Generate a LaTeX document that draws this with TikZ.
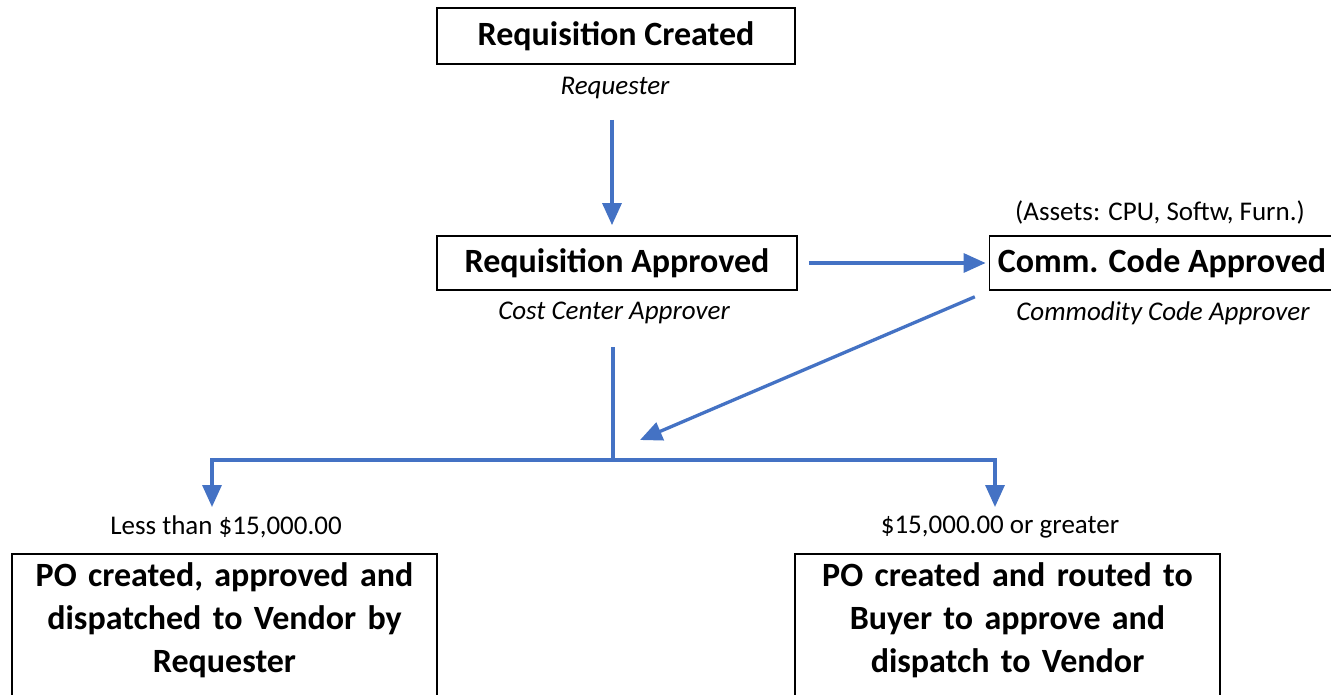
\documentclass[tikz,border=0pt]{standalone}
\usepackage{fontspec}
\setmainfont{Carlito}
\usetikzlibrary{arrows.meta}
\definecolor{lineblue}{RGB}{68,114,196}
\begin{document}
\begin{tikzpicture}[x=1pt,y=-1pt,
  box/.style={draw=black,line width=1.8pt,font=\bfseries\fontsize{34}{43}\selectfont,inner sep=0pt,align=center},
  bigbox/.style={box,anchor=north,text width=425pt,minimum width=425pt,inner ysep=9pt},
  role/.style={font=\itshape\fontsize{27}{32}\selectfont,inner sep=0pt},
  cond/.style={font=\fontsize{27}{32}\selectfont,inner sep=0pt},
  flow/.style={draw=lineblue,line width=3.3pt},
  arr/.style={flow,-{Triangle[length=22pt,width=19pt]}}]
\clip (0,0) rectangle (1331,695);
\fill[white] (0,0) rectangle (1331,695);

\node[box,minimum width=358pt,minimum height=56pt] (rc) at (616,36) {Requisition Created};
\node[role] (rcr) at (615,88) {Requester};
\node[box,minimum width=360pt,minimum height=54pt] (ra) at (617,263) {Requisition Approved};
\node[role] (rar) at (614,313) {Cost Center Approver};
\node[box,minimum width=345pt,minimum height=54pt] (cc) at (1162,263) {Comm. Code Approved};
\node[cond] (assets) at (1160,212) {(Assets: CPU, Softw, Furn.)};
\node[role] (ccr) at (1163,313) {Commodity Code Approver};
\node[cond] (lt) at (226,527) {Less than \$15,000.00};
\node[cond] (ge) at (1000,527) {\$15,000.00 or greater};
\node[bigbox] (pol) at (224.5,553) {PO created, approved and\\dispatched to Vendor by\\Requester\rule[-40pt]{0pt}{0pt}};
\node[bigbox] (por) at (1007.5,553) {PO created and routed to\\Buyer to approve and\\dispatch to Vendor\rule[-40pt]{0pt}{0pt}};

\coordinate (a1s) at (612,120);
\coordinate (vs) at (613,347);
\coordinate (j) at (613,460);
\coordinate (mid) at (640,440);
\coordinate (ltin) at (212,507);
\coordinate (gein) at (995,507);

\draw[arr,shorten >=10pt] (a1s) -- (a1s |- ra.north);
\draw[arr,shorten <=11pt,shorten >=3pt] (ra.east) -- (cc.west);
\draw[arr,shorten <=15pt] (cc.south west) -- (mid);
\draw[flow] (vs) -- (j);
\draw[arr] (j) -| (ltin);
\draw[arr] (j) -| (gein);
\end{tikzpicture}
\end{document}
